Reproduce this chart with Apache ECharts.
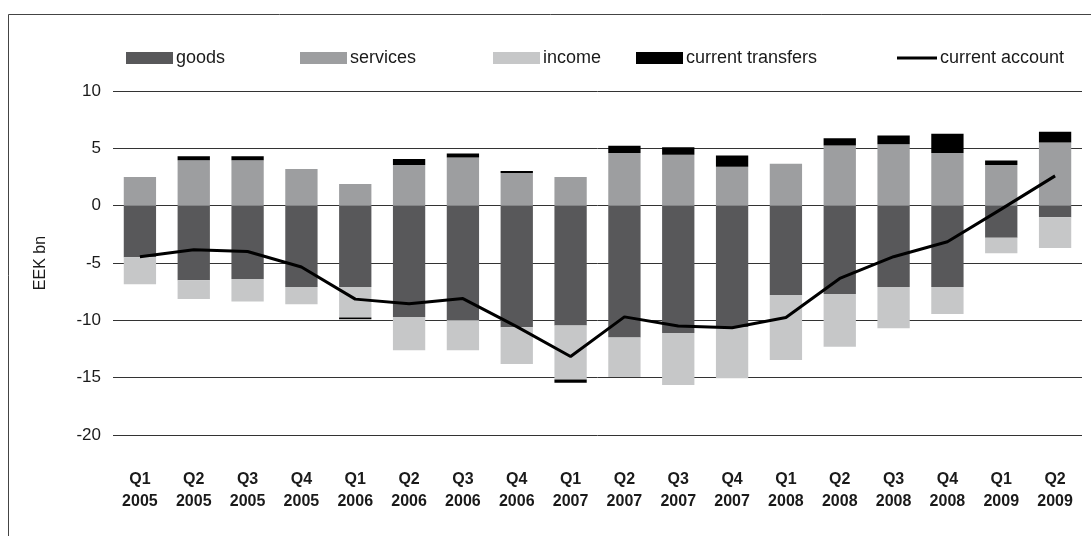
<!DOCTYPE html>
<html>
<head>
<meta charset="utf-8">
<script src="https://cdn.jsdelivr.net/npm/echarts@6/dist/echarts.min.js"></script>
<style>
  html, body { margin: 0; padding: 0; background: #fff; }
  #chart { width: 1091px; height: 536px; }
</style>
</head>
<body>
<div id="chart"></div>
<script>
// Estonian current account components by quarter, EEK bn
const quarters = ['Q1','Q2','Q3','Q4','Q1','Q2','Q3','Q4','Q1','Q2','Q3','Q4','Q1','Q2','Q3','Q4','Q1','Q2'];
const years = ['2005','2005','2005','2005','2006','2006','2006','2006','2007','2007','2007','2007','2008','2008','2008','2008','2009','2009'];

const goods = [-4.5, -6.5, -6.4, -7.1, -7.1, -9.7, -10.0, -10.6, -10.45, -11.5, -11.1, -10.6, -7.8, -7.7, -7.1, -7.1, -2.8, -1.0];
const services = [2.5, 3.95, 3.95, 3.2, 1.9, 3.55, 4.2, 2.85, 2.5, 4.6, 4.45, 3.4, 3.65, 5.25, 5.35, 4.6, 3.55, 5.5];
const income = [-2.35, -1.65, -1.95, -1.5, -2.65, -2.9, -2.6, -3.2, -4.7, -3.45, -4.55, -4.45, -5.65, -4.6, -3.6, -2.35, -1.35, -2.7];
const transfers = [0, 0.35, 0.35, 0, -0.15, 0.53, 0.36, 0.17, -0.3, 0.62, 0.64, 0.97, 0, 0.62, 0.76, 1.68, 0.39, 0.95];
const currentAccount = [-4.45, -3.85, -4.0, -5.35, -8.15, -8.55, -8.1, -10.55, -13.15, -9.7, -10.5, -10.65, -9.75, -6.35, -4.45, -3.15, -0.3, 2.6];

const yTicks = { min: -20, max: 10, interval: 5 };

const categories = quarters.map((q, i) => q + '\n' + years[i]);

const FONT = '"Liberation Sans", Arial, Helvetica, sans-serif';
const TXT = '#1a1a1a';

const chart = echarts.init(document.getElementById('chart'), null, { renderer: 'canvas' });

function barSeries(name, data, color) {
  return {
    name: name,
    type: 'bar',
    stack: 'ca',
    data: data,
    barWidth: '60%',
    itemStyle: { color: color },
    emphasis: { disabled: true },
    animation: false
  };
}

function legendAt(name, left, extra) {
  return Object.assign({
    data: [name],
    left: left,
    top: 49,
    padding: 0,
    itemWidth: 47,
    itemHeight: 12,
    itemGap: 0,
    icon: 'rect',
    selectedMode: false,
    textStyle: { fontFamily: FONT, fontSize: 18, color: TXT, padding: [0, 0, 0, -2] }
  }, extra || {});
}

chart.setOption({
  backgroundColor: '#fff',
  animation: false,
  graphic: [{
    type: 'rect',
    shape: { x: 8.5, y: 14.5, width: 1200, height: 700 },
    style: { fill: 'none', stroke: '#444', lineWidth: 1 },
    silent: true
  }],
  legend: [
    legendAt('goods', 126),
    legendAt('services', 300),
    legendAt('income', 493),
    legendAt('current transfers', 636),
    legendAt('current account', 897, { itemWidth: 40, itemHeight: 3 })
  ],
  grid: { left: 113, right: 9, top: 91, bottom: 101, containLabel: false },
  xAxis: {
    type: 'category',
    data: categories,
    position: 'bottom',
    axisLine: { show: false },
    axisTick: { show: false },
    axisLabel: {
      interval: 0,
      margin: 34,
      fontFamily: FONT,
      fontSize: 16,
      fontWeight: 'bold',
      lineHeight: 22,
      color: TXT
    }
  },
  yAxis: {
    type: 'value',
    min: yTicks.min,
    max: yTicks.max,
    interval: yTicks.interval,
    name: 'EEK bn',
    nameLocation: 'middle',
    nameRotate: 90,
    nameGap: 64,
    nameTextStyle: { fontFamily: FONT, fontSize: 16, color: TXT },
    axisLine: { show: false },
    axisTick: { show: false },
    axisLabel: { margin: 12, fontFamily: FONT, fontSize: 17, color: TXT },
    splitLine: { lineStyle: { color: '#333', width: 1 } }
  },
  series: [
    barSeries('goods', goods, '#58585a'),
    barSeries('services', services, '#9d9ea0'),
    barSeries('income', income, '#c6c7c8'),
    barSeries('current transfers', transfers, '#000000'),
    {
      name: 'current account',
      type: 'line',
      data: currentAccount,
      symbol: 'none',
      z: 5,
      itemStyle: { color: '#000' },
      lineStyle: { color: '#000', width: 3 },
      emphasis: { disabled: true },
      animation: false
    }
  ]
});
</script>
</body>
</html>
